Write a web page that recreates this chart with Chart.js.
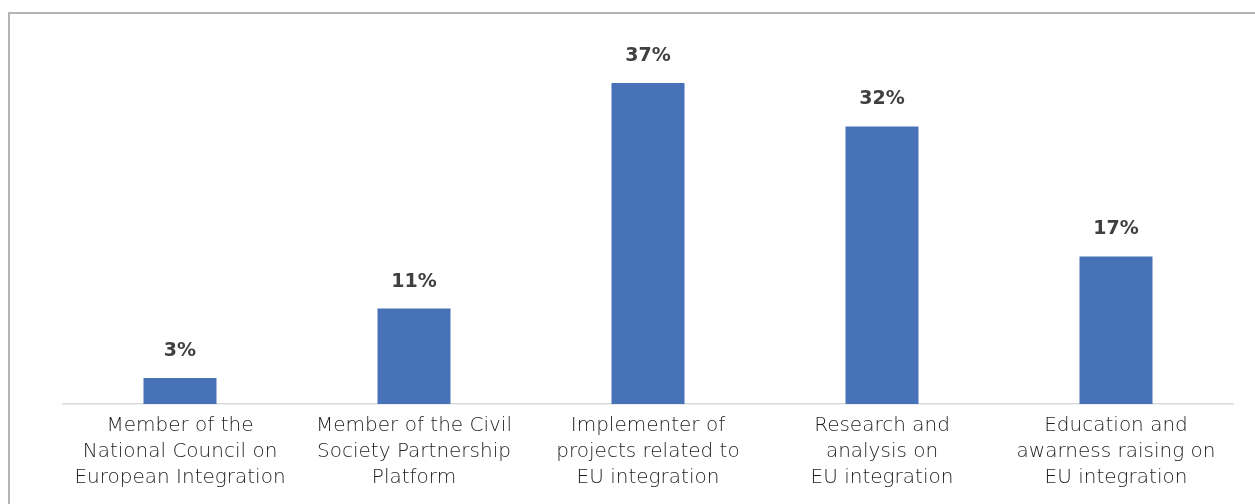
<!DOCTYPE html>
<html>
<head>
<meta charset="utf-8">
<script src="https://cdn.jsdelivr.net/npm/chart.js@4"></script>
<style>
  html, body { margin: 0; padding: 0; background: #fff; }
  #wrap { position: relative; width: 1255px; height: 504px; }
</style>
</head>
<body>
<div id="wrap"><canvas id="grafico"></canvas></div>
<script>
// categorias e valores
const categorias = [
    ['Member of the', 'National Council on', 'European Integration'],
    ['Member of the Civil', 'Society Partnership', 'Platform'],
    ['Implementer of', 'projects related to', 'EU integration'],
    ['Research and', 'analysis on', 'EU integration'],
    ['Education and', 'awarness raising on', 'EU integration']
];
const valores = [3, 11, 37, 32, 17];
const rotulos = ['3%', '11%', '37%', '32%', '17%'];

// moldura cinza do grafico
const moldura = {
    id: 'moldura',
    beforeDraw(chart) {
        const c = chart.ctx;
        c.save();
        c.strokeStyle = '#b4b4b6';
        c.lineWidth = 2;
        c.strokeRect(9, 13, 1400, 700);
        c.restore();
    }
};

// rotulos de valor acima das barras
const rotulosValor = {
    id: 'rotulosValor',
    afterDatasetsDraw(chart) {
        const c = chart.ctx;
        const meta = chart.getDatasetMeta(0);
        c.save();
        c.font = 'bold 19px "DejaVu Sans"';
        c.fillStyle = '#404040';
        c.textAlign = 'center';
        c.textBaseline = 'middle';
        meta.data.forEach(function(bar, i) {
            c.fillText(rotulos[i], bar.x, bar.y - 27);
        });
        c.restore();
    }
};

const ctx = document.getElementById('grafico').getContext('2d');
new Chart(ctx, {
    type: 'bar',
    data: {
        labels: categorias,
        datasets: [{
            data: valores,
            backgroundColor: '#4872b7',
            borderWidth: 0,
            categoryPercentage: 1,
            barPercentage: 0.312
        }]
    },
    options: {
        responsive: true,
        maintainAspectRatio: false,
        animation: false,
        layout: { padding: { left: 63, right: 22, top: 57, bottom: 4 } },
        plugins: {
            legend: { display: false },
            tooltip: { enabled: false }
        },
        scales: {
            x: {
                grid: { display: false, drawTicks: false },
                border: { display: true, color: '#d9d9d9', width: 1.5 },
                ticks: {
                    padding: 9,
                    color: '#1e1e1e',
                    maxRotation: 0,
                    autoSkip: false,
                    font: { family: 'DejaVu Sans', size: 20, weight: 200, lineHeight: 1.3 }
                }
            },
            y: {
                display: false,
                min: 0,
                max: 40
            }
        }
    },
    plugins: [moldura, rotulosValor]
});
</script>
</body>
</html>
